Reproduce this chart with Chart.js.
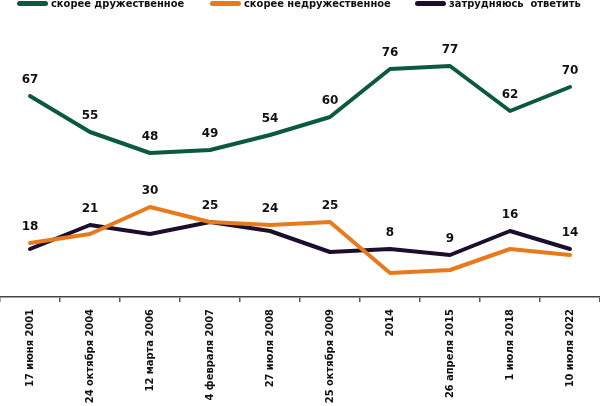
<!DOCTYPE html>
<html>
<head>
<meta charset="utf-8">
<script src="https://cdn.jsdelivr.net/npm/chart.js@4/dist/chart.umd.min.js"></script>
<style>
  body { margin: 0; background: #fff; overflow: hidden; }
  #wrap { position: relative; width: 600px; height: 406px; overflow: hidden; }
  canvas { display: block; }
  #legend { position: absolute; left: 0; top: 0; width: 600px; height: 14px;
    font: bold 11px "DejaVu Sans Condensed", "DejaVu Sans", sans-serif; color: #111; }
  .item { position: absolute; top: -3px; white-space: nowrap; line-height: 14px; }
  .swatch { display: inline-block; width: 31px; height: 5px; border-radius: 3px;
    vertical-align: middle; margin-right: 3px; position: relative; top: -1px; }
</style>
</head>
<body>
<div id="wrap">
  <canvas id="chart" width="600" height="406"></canvas>
  <div id="legend"></div>
</div>
<script>
const categories = ['17 июня 2001', '24 октября 2004', '12 марта 2006', '4 февраля 2007', '27 июля 2008',
  '25 октября 2009', '2014', '26 апреля 2015', '1 июля 2018', '10 июля 2022'];
const friendly = [67, 55, 48, 49, 54, 60, 76, 77, 62, 70];
const unfriendly = [18, 21, 30, 25, 24, 25, 8, 9, 16, 14];
const hardToSay = [16, 24, 21, 25, 22, 15, 16, 14, 22, 16];
const seriesNames = ['скорее дружественное', 'скорее недружественное', 'затрудняюсь  ответить'];
const seriesColors = ['#0b5a3e', '#e87a1c', '#1b0f2d'];

const fontFamily = '"DejaVu Sans", sans-serif';
const tickFamily = '"DejaVu Sans Condensed", "DejaVu Sans", sans-serif';

// legend drawn as html so it can sit right at the top edge like the original
const legendLeft = [17, 210, 415];
const legend = document.getElementById('legend');
seriesNames.forEach((name, i) => {
  const item = document.createElement('div');
  item.className = 'item';
  item.style.left = legendLeft[i] + 'px';
  item.innerHTML = '<span class="swatch" style="background:' + seriesColors[i] + '"></span>' + name.replace(/  /g, ' &nbsp;');
  legend.appendChild(item);
});

// labels above points: green above green, orange values above the upper of the lower two lines
const valueLabels = {
  id: 'valueLabels',
  afterDatasetsDraw(chart) {
    const ctx = chart.ctx;
    const y = chart.scales.y;
    ctx.save();
    ctx.font = 'bold 12px ' + fontFamily;
    ctx.fillStyle = '#111';
    ctx.textAlign = 'center';
    ctx.textBaseline = 'middle';
    chart.getDatasetMeta(0).data.forEach((pt, i) => {
      ctx.fillText(friendly[i], pt.x, pt.y - 16);
    });
    chart.getDatasetMeta(1).data.forEach((pt, i) => {
      const top = y.getPixelForValue(Math.max(unfriendly[i], hardToSay[i]));
      ctx.fillText(unfriendly[i], pt.x, top - 16);
    });
    ctx.restore();
  }
};

new Chart(document.getElementById('chart'), {
  type: 'line',
  data: {
    labels: categories,
    datasets: seriesNames.map((name, i) => ({
      label: name,
      data: [friendly, unfriendly, hardToSay][i],
      borderColor: seriesColors[i],
      backgroundColor: seriesColors[i]
    }))
  },
  options: {
    responsive: false,
    animation: false,
    layout: { padding: 0 },
    elements: {
      line: { borderWidth: 4, tension: 0, borderCapStyle: 'round', borderJoinStyle: 'round' },
      point: { radius: 0 }
    },
    plugins: {
      legend: { display: false },
      tooltip: { enabled: false }
    },
    scales: {
      x: {
        offset: true,
        afterFit(scale) { scale.height = 109; },
        grid: { display: true, drawOnChartArea: false, offset: true, tickLength: 5, color: '#555', lineWidth: 1.5 },
        border: { color: '#444', width: 1.5 },
        ticks: {
          minRotation: 90,
          maxRotation: 90,
          padding: 7,
          color: '#111',
          font: { family: tickFamily, size: 11, weight: 'bold' }
        }
      },
      y: {
        display: false,
        min: 0,
        max: 99
      }
    }
  },
  plugins: [valueLabels]
});
</script>
</body>
</html>
